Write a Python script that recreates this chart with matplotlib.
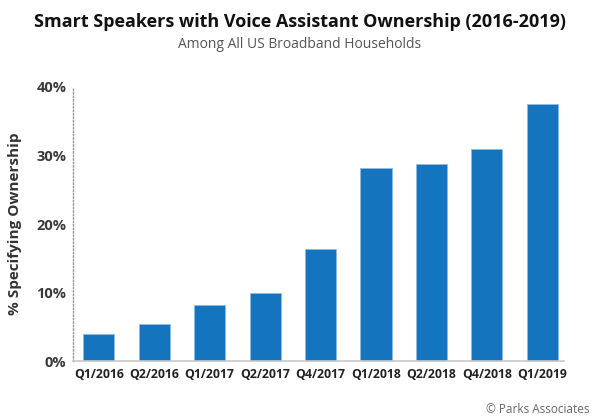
import matplotlib
matplotlib.use("Agg")
import matplotlib.pyplot as plt
from matplotlib.ticker import FuncFormatter

quarters = ["Q1/2016", "Q2/2016", "Q1/2017", "Q2/2017", "Q4/2017",
            "Q1/2018", "Q2/2018", "Q4/2018", "Q1/2019"]
ownership = [3.9, 5.4, 8.2, 9.9, 16.4, 28.2, 28.8, 30.9, 37.5]
yticks = [0, 10, 20, 30, 40]

BLUE = "#1474bd"

plt.rcParams['font.family'] = ['Open Sans', 'DejaVu Sans']

fig = plt.figure(figsize=(6, 4.2), dpi=100)
ax = fig.add_axes([0.122, 0.14, 0.818, 0.653])

x = list(range(len(quarters)))
ax.bar(x, ownership, width=0.56, color=BLUE, edgecolor="#8fbbe0", linewidth=0.6)

ax.set_xlim(-0.46, len(quarters) - 1 + 0.39)
ax.set_ylim(0, 40)
ax.set_yticks(yticks)
ax.yaxis.set_major_formatter(FuncFormatter(lambda v, p: "%d%%" % v))
ax.set_xticks(x)
ax.set_xticklabels(quarters, fontweight='bold', fontsize=8.8, color="#222222")
for lab in ax.get_yticklabels():
    lab.set_fontweight('bold')
    lab.set_fontsize(10.5)
    lab.set_color("#3a3a3a")
ax.tick_params(axis='both', length=0)
ax.tick_params(axis='y', pad=5)
ax.tick_params(axis='x', pad=5)

for s in ['top', 'right']:
    ax.spines[s].set_visible(False)
ax.spines['left'].set_linestyle((0, (1, 1.5)))
ax.spines['left'].set_color("#999999")
ax.spines['left'].set_linewidth(1)
ax.spines['bottom'].set_color("#c8c8c8")
ax.spines['bottom'].set_linewidth(1.2)

ax.set_ylabel("% Specifying Ownership", fontsize=11, fontweight='bold',
              color="#333333", labelpad=10)

fig.text(0.5, 0.947, "Smart Speakers with Voice Assistant Ownership (2016-2019)",
         ha='center', va='center', fontsize=13, fontweight='bold', color="#111111")
fig.text(0.5, 0.893, "Among All US Broadband Households",
         ha='center', va='center', fontsize=10, color="#555555")
fig.text(0.983, 0.025, "\u00a9 Parks Associates", ha='right', va='center',
         fontsize=8.5, color="#666666")

fig.savefig("out.png", dpi=100)
